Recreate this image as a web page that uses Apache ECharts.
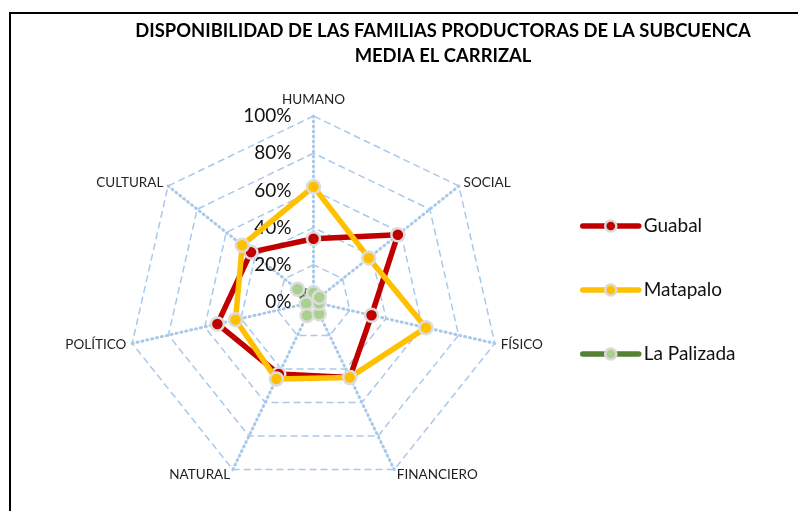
<!DOCTYPE html>
<html><head><meta charset="utf-8">
<script src="https://cdn.jsdelivr.net/npm/echarts@6/dist/echarts.min.js"></script>
<style>
html,body{margin:0;padding:0;background:#fff;overflow:hidden}
#c{width:798px;height:511px;position:absolute;left:0;top:0}
#f{position:absolute;left:9px;top:12px;width:900px;height:600px;border-left:2px solid #000;border-top:2px solid #000;pointer-events:none}
</style>
</head><body><div id="c"></div><div id="f"></div>
<script>
// Axes in clockwise order starting at the top
const indicators = ['HUMANO', 'SOCIAL', 'FÍSICO', 'FINANCIERO', 'NATURAL', 'POLÍTICO', 'CULTURAL'];
const seriesNames = ['Guabal', 'Matapalo', 'La Palizada'];
const guabal = [34, 58, 32, 45, 43, 53, 43];
const matapalo = [62, 38, 62, 45, 46, 43, 49];
const laPalizada = [5, 4, 3, 7, 8, 4, 11];
const tickLabels = ['0%', '20%', '40%', '60%', '80%', '100%'];

const lineColors = ['#C00000', '#FFC000', '#548235'];
const markerColors = ['#C00000', '#FFC000', '#A9D18E'];
const values = [guabal, matapalo, laPalizada];

// ECharts radar runs counter-clockwise: reorder so it reads clockwise
const order = [0, 6, 5, 4, 3, 2, 1];
const reorder = arr => order.map(i => arr[i]);

const FONT = 'Lato, "Liberation Sans", sans-serif';
const gridColor = '#A9C9EA';

const chart = echarts.init(document.getElementById('c'), null, {renderer: 'canvas'});

const legendSeries = seriesNames.map((n, k) => ({
  type: 'line', name: n, data: [], xAxisIndex: 0, yAxisIndex: 0,
  symbol: 'circle', symbolSize: 11,
  lineStyle: {color: lineColors[k], width: 5.5, cap: 'round'},
  itemStyle: {color: markerColors[k], borderColor: '#DADADA', borderWidth: 2.5}
}));

const radarSeries = seriesNames.map((n, k) => ({
  type: 'radar', name: n, silent: true, z: 3 + k,
  symbol: 'circle', symbolSize: 13,
  lineStyle: {color: lineColors[k], width: 5.5, join: 'round'},
  itemStyle: {color: markerColors[k], borderColor: '#DCDCDC', borderWidth: 2.5},
  data: [{name: n, value: reorder(values[k])}]
}));

chart.setOption({
  animation: false,
  title: {
    text: 'DISPONIBILIDAD DE LAS FAMILIAS PRODUCTORAS DE LA SUBCUENCA\nMEDIA EL CARRIZAL',
    left: 443, top: 19, padding: 0, textAlign: 'center',
    textStyle: {fontFamily: FONT, fontWeight: 'bold', fontSize: 18.4, lineHeight: 25, color: '#000'}
  },
  grid: {left: -50, top: -50, width: 10, height: 10, show: false},
  xAxis: {type: 'category', show: false},
  yAxis: {type: 'value', show: false},
  legend: {
    orient: 'vertical', left: 580, top: 216, padding: 0,
    itemWidth: 56, itemHeight: 14, itemGap: 44,
    data: seriesNames,
    lineStyle: {width: 5.5, cap: 'round'},
    itemStyle: {borderWidth: 2.5},
    textStyle: {fontFamily: FONT, fontSize: 19, lineHeight: 20, color: '#111'},
    selectedMode: false
  },
  radar: {
    center: [313.5, 302], radius: 186, startAngle: 90, splitNumber: 5, shape: 'polygon',
    nameGap: 6,
    axisName: {color: '#222', fontFamily: FONT, fontSize: 13.5},
    indicator: reorder(indicators).map((n, i) => {
      const o = {name: n, min: 0, max: 100};
      if (i === 0) {
        o.axisLabel = {show: true, fontFamily: FONT, fontSize: 19, color: '#111', margin: 22,
          formatter: v => tickLabels[Math.round(v / 20)]};
      }
      return o;
    }),
    axisLine: {lineStyle: {color: gridColor, width: 3, type: [1, 4]}},
    splitLine: {lineStyle: {color: gridColor, width: 1.5, type: [7, 4]}},
    splitArea: {show: false},
    axisTick: {show: false},
    axisLabel: {show: false}
  },
  series: legendSeries.concat(radarSeries)
});
</script>
</body></html>
